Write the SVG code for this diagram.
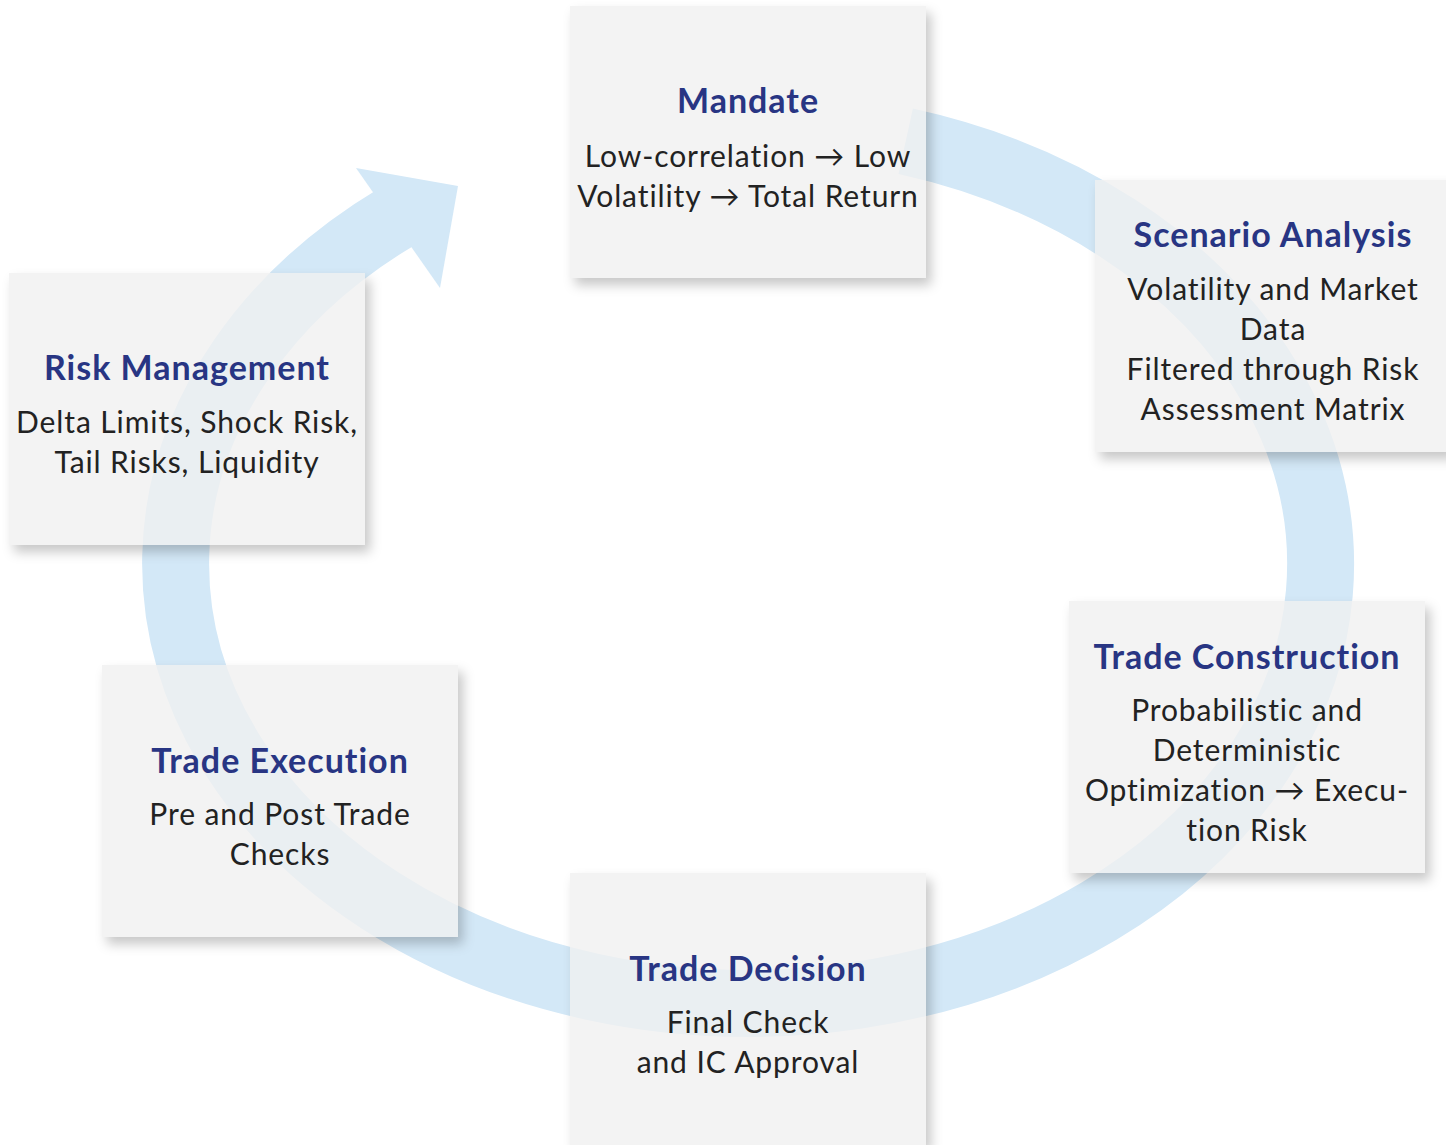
<svg xmlns="http://www.w3.org/2000/svg" width="1446" height="1145" viewBox="0 0 1446 1145">
<defs>
<style>
.box{fill:#f0f0f0;filter:url(#sh)}
.t{font-family:"Lato","Liberation Sans",sans-serif;font-weight:700;font-size:34px;letter-spacing:1px;fill:#283583;text-anchor:middle}
.b{font-family:"Lato","Liberation Sans",sans-serif;font-weight:400;font-size:30px;letter-spacing:0.9px;fill:#222222;text-anchor:middle}
.ring{fill:none;stroke:#d3e8f7;stroke-width:67}
</style>
<filter id="sh" x="-10%" y="-10%" width="125%" height="125%">
<feGaussianBlur in="SourceAlpha" stdDeviation="6"/>
<feOffset dx="5" dy="7" result="b"/>
<feFlood flood-color="#000" flood-opacity="0.22"/>
<feComposite in2="b" operator="in" result="s"/>
<feComposite in="s" in2="SourceAlpha" operator="out" result="so"/>
<feComponentTransfer in="SourceGraphic" result="g"><feFuncA type="linear" slope="0.8"/></feComponentTransfer>
<feMerge><feMergeNode in="so"/><feMergeNode in="g"/></feMerge>
</filter>
</defs>
<rect width="1446" height="1145" fill="#ffffff"/>
<g id="connectors">
<path class="ring" d="M 905.7 141.3 A 572.5 439.5 0 1 1 395.8 217.4"/>
<polygon points="356,168 458,186 440,288" fill="#d3e8f7"/>
</g>
<g id="mandate">
<rect class="box" x="570" y="6" width="356" height="272"/>
<text class="t" x="748" y="113">Mandate</text>
<text class="b" x="748" y="167">Low-correlation → Low</text>
<text class="b" x="748" y="207">Volatility → Total Return</text>
</g>
<g id="scenario-analysis">
<rect class="box" x="1095" y="180" width="356" height="272"/>
<text class="t" x="1273" y="247">Scenario Analysis</text>
<text class="b" x="1273" y="300">Volatility and Market</text>
<text class="b" x="1273" y="340">Data</text>
<text class="b" x="1273" y="380">Filtered through Risk</text>
<text class="b" x="1273" y="420">Assessment Matrix</text>
</g>
<g id="trade-construction">
<rect class="box" x="1069" y="601" width="356" height="272"/>
<text class="t" x="1247" y="669">Trade Construction</text>
<text class="b" x="1247" y="721">Probabilistic and</text>
<text class="b" x="1247" y="761">Deterministic</text>
<text class="b" x="1247" y="801">Optimization → Execu-</text>
<text class="b" x="1247" y="841">tion Risk</text>
</g>
<g id="trade-decision">
<rect class="box" x="570" y="873" width="356" height="272"/>
<text class="t" x="748" y="981">Trade Decision</text>
<text class="b" x="748" y="1033">Final Check</text>
<text class="b" x="748" y="1073">and IC Approval</text>
</g>
<g id="trade-execution">
<rect class="box" x="102" y="665" width="356" height="272"/>
<text class="t" x="280" y="773">Trade Execution</text>
<text class="b" x="280" y="825">Pre and Post Trade</text>
<text class="b" x="280" y="865">Checks</text>
</g>
<g id="risk-management">
<rect class="box" x="9" y="273" width="356" height="272"/>
<text class="t" x="187" y="380">Risk Management</text>
<text class="b" x="187" y="433">Delta Limits, Shock Risk,</text>
<text class="b" x="187" y="473">Tail Risks, Liquidity</text>
</g>
</svg>
